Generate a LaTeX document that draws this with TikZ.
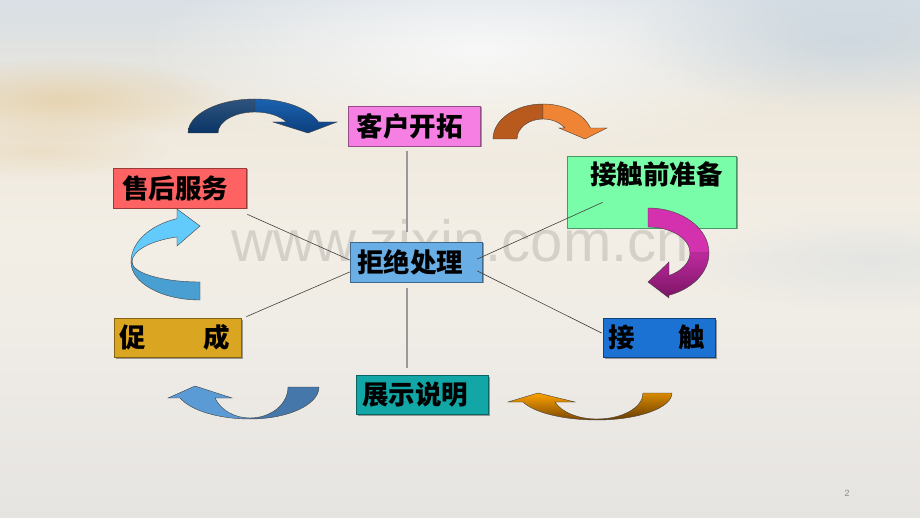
\documentclass[tikz,border=0pt]{standalone}
\usepackage{fontspec}
\newfontfamily\cjkfont{Noto Sans CJK SC}
\newfontfamily\latfont{Liberation Sans}
\usetikzlibrary{shadows,fadings,calc}
\definecolor{bgA}{HTML}{D8DFE5}
\definecolor{bgB}{HTML}{EEE8DC}
\definecolor{bgC}{HTML}{F3EEE5}
\definecolor{bgD}{HTML}{EEEBE6}
\definecolor{bgE}{HTML}{E6E4E1}
\definecolor{cloudwarm}{HTML}{E2C48E}
\definecolor{skyblue}{HTML}{C3D2DE}
\definecolor{cPink}{HTML}{F57FE2}
\definecolor{cRed}{HTML}{FF6262}
\definecolor{cMid}{HTML}{6AAEE6}
\definecolor{cGreen}{HTML}{7AFDA8}
\definecolor{cGold}{HTML}{DAA520}
\definecolor{cTeal}{HTML}{12A6A6}
\definecolor{cBlue}{HTML}{1C72D2}
\definecolor{navyBack}{HTML}{0A3566}
\definecolor{navyTop}{HTML}{1B62B0}
\definecolor{navyBot}{HTML}{0C3F7C}
\definecolor{orBack}{HTML}{B8591E}
\definecolor{orFront}{HTML}{EE8434}
\definecolor{magBack}{HTML}{D431AE}
\definecolor{magTop}{HTML}{BE2A9E}
\definecolor{magBot}{HTML}{7A1464}
\definecolor{skyFront}{HTML}{63CBFC}
\definecolor{skyBack}{HTML}{4A9FD2}
\definecolor{stFront}{HTML}{5B9BD5}
\definecolor{stBack}{HTML}{4677AA}
\definecolor{amTop}{HTML}{FFA200}
\definecolor{amBot}{HTML}{7A4800}
\tikzfading[name=softglow, inner color=transparent!0, outer color=transparent!100]
\begin{document}
\begin{tikzpicture}[x=1pt,y=-1pt,
  box/.style={fill=#1, draw=#1!60!black, line width=0.7pt, inner sep=0pt,
    minimum height=40pt, text=black,
    font=\cjkfont\bfseries\fontsize{26.5pt}{28pt}\selectfont,
    drop shadow={shadow xshift=1.5pt, shadow yshift=-1.5pt, opacity=0.35, fill=black}},
  arrowline/.style={draw=black!75, line width=0.4pt},
  vline/.style={draw=black!40, line width=1.2pt},
  dline/.style={draw=black!75, line width=0.6pt}]
\useasboundingbox (0,0) rectangle (920,518);
% background sky
\shade[top color=bgA, bottom color=bgB] (-1,-1) rectangle (921,111);
\shade[top color=bgB, bottom color=bgC] (-1,110) rectangle (921,231);
\shade[top color=bgC, bottom color=bgD] (-1,230) rectangle (921,361);
\shade[top color=bgD, bottom color=bgE] (-1,360) rectangle (921,519);
\fill[white, opacity=0.75, path fading=softglow] (480,50) ellipse [x radius=340, y radius=110];
\fill[cloudwarm, opacity=0.55, path fading=softglow] (60,100) ellipse [x radius=170, y radius=42];
\fill[cloudwarm, opacity=0.3, path fading=softglow] (40,150) ellipse [x radius=130, y radius=30];
\fill[skyblue, opacity=0.6, path fading=softglow] (850,40) ellipse [x radius=220, y radius=70];
\fill[skyblue, opacity=0.3, path fading=softglow] (870,260) ellipse [x radius=200, y radius=50];
% watermark
\node[anchor=base west, inner sep=0pt, font=\latfont\fontsize{58pt}{58pt}\selectfont, text=black, opacity=0.12] (wm) at (231,262) {www.zixin.com.cn};
% boxes
\node[box=cPink, minimum width=132pt] (kh) at (414,126) {\kern-9pt 客户开拓};
\node[box=cRed, minimum width=133pt] (sh) at (179.5,188) {\kern-9pt 售后服务};
\node[box=cMid, minimum width=132pt] (jj) at (416,262) {\kern-12pt 拒绝处理};
\node[box=cGreen, minimum width=169pt, minimum height=72pt, text height=28.5pt, text depth=43.5pt] (zb) at (651.5,192) {\kern10pt 接触前准备};
\node[box=cGold, minimum width=127pt, minimum height=39pt] (cc) at (177.5,337.5) {\kern-6pt 促\hspace{58pt}成};
\node[box=cTeal, minimum width=132pt, minimum height=39pt] (zs) at (422,394.5) {\kern-14pt 展示说明};
\node[box=cBlue, minimum width=112pt, minimum height=39pt] (jc) at (659,337.5) {\kern-5pt 接\hspace{44pt}触};
% curved arrow 1 (navy, top left)
\coordinate (c1) at (255,133);
\draw[arrowline, top color=navyBack!85!white, bottom color=navyBack] ($(c1)+(180:67 and 34)$) arc[start angle=180, end angle=270, x radius=67, y radius=34] -- ($(c1)+(270:37 and 21)$) arc[start angle=270, end angle=180, x radius=37, y radius=21] -- cycle;
\draw[arrowline, top color=navyTop, bottom color=navyBot] ($(c1)+(270:67 and 34)$) arc[start angle=270, end angle=341.1, x radius=67, y radius=34] -- (337,122) -- (308,133) -- (273,122) -- ($(c1)+(328.4:37 and 21)$) arc[start angle=328.4, end angle=270, x radius=37, y radius=21] -- cycle;
% curved arrow 2 (orange, top right)
\coordinate (c2) at (543,139);
\draw[arrowline, fill=orBack] ($(c2)+(180:50 and 35)$) arc[start angle=180, end angle=270, x radius=50, y radius=35] -- ($(c2)+(270:26 and 20)$) arc[start angle=270, end angle=180, x radius=26, y radius=20] -- cycle;
\draw[arrowline, fill=orFront] ($(c2)+(270:50 and 35)$) arc[start angle=270, end angle=341.7, x radius=50, y radius=35] -- (607,128) -- (585,139) -- (559,128) -- ($(c2)+(326.6:26 and 20)$) arc[start angle=326.6, end angle=270, x radius=26, y radius=20] -- cycle;
% curved arrow 3 (magenta, right)
\coordinate (c3) at (648,253);
\draw[arrowline, fill=magBack] ($(c3)+(-90:61 and 45)$) arc[start angle=-90, end angle=0, x radius=61, y radius=45] -- ($(c3)+(0:42 and 26)$) arc[start angle=0, end angle=-90, x radius=42, y radius=26] -- cycle;
\draw[arrowline, top color=magTop, bottom color=magBot] ($(c3)+(0:61 and 45)$) arc[start angle=0, end angle=70, x radius=61, y radius=45] -- (669,298) -- (648,282) -- (669,262) -- ($(c3)+(60:42 and 26)$) arc[start angle=60, end angle=0, x radius=42, y radius=26] -- cycle;
% curved arrow 4 (light blue, left)
\coordinate (c4) at (200,262);
\draw[arrowline, fill=skyBack] ($(c4)+(180:69 and 38)$) arc[start angle=180, end angle=90, x radius=69, y radius=38] -- ($(c4)+(90:68 and 20)$) arc[start angle=90, end angle=180, x radius=68, y radius=20] -- cycle;
\draw[arrowline, fill=skyFront] ($(c4)+(180:69 and 46)$) arc[start angle=180, end angle=250.5, x radius=69, y radius=46] -- (177,209) -- (200,226) -- (177,246) -- ($(c4)+(250.2:68 and 26.6)$) arc[start angle=250.2, end angle=180, x radius=68, y radius=26.6] -- cycle;
% curved arrow 5 (steel blue, bottom left)
\coordinate (c5) at (250,387);
\draw[arrowline, fill=stBack] ($(c5)+(0:69 and 32)$) arc[start angle=0, end angle=90, x radius=69, y radius=32] -- ($(c5)+(90:38 and 31)$) arc[start angle=90, end angle=0, x radius=38, y radius=31] -- cycle;
\draw[arrowline, fill=stFront] ($(c5)+(90:74.5 and 32)$) arc[start angle=90, end angle=159.9, x radius=74.5, y radius=32] -- (168,398) -- (195,386) -- (232,398) -- ($(c5)+(159.2:37.4 and 31)$) arc[start angle=159.2, end angle=90, x radius=37.4, y radius=31] -- cycle;
% curved arrow 6 (amber, bottom right)
\coordinate (c6) at (597,393);
\draw[arrowline, top color=amTop!85!black, bottom color=amBot!85!black] ($(c6)+(0:75 and 27)$) arc[start angle=0, end angle=90, x radius=75, y radius=27] -- ($(c6)+(90:46 and 26)$) arc[start angle=90, end angle=0, x radius=46, y radius=26] -- cycle;
\draw[arrowline, top color=amTop, bottom color=amBot] ($(c6)+(90:78.5 and 27)$) arc[start angle=90, end angle=160.5, x radius=78.5, y radius=27] -- (508,402) -- (538,393) -- (575,402) -- ($(c6)+(159.75:44.8 and 26)$) arc[start angle=159.75, end angle=90, x radius=44.8, y radius=26] -- cycle;
% connectors
\coordinate (v1a) at ($(kh.south)+(-7,5)$);
\coordinate (v1b) at ($(jj.north)+(-9,-10)$);
\coordinate (v2a) at ($(jj.south)+(-9,6)$);
\coordinate (v2b) at ($(zs.north)+(-15,-7)$);
\coordinate (d1a) at ($(sh.south east)+(1,6)$);
\coordinate (d1b) at ($(jj.west)+(0,-2)$);
\coordinate (d2a) at ($(cc.north east)+(5,-1)$);
\coordinate (d2b) at ($(jj.west)+(0,10)$);
\coordinate (d3a) at ($(jj.east)+(-5,-3)$);
\coordinate (d3b) at ($(zb.south west)+(36,-26)$);
\coordinate (d4a) at ($(jj.east)+(-5,9)$);
\coordinate (d4b) at ($(jc.west)+(-1,-4.5)$);
\draw[vline] (v1a) -- (v1b);
\draw[vline] (v2a) -- (v2b);
\draw[dline] (d1a) -- (d1b);
\draw[dline] (d2a) -- (d2b);
\draw[dline] (d3a) -- (d3b);
\draw[dline] (d4a) -- (d4b);
% page number
\node[font=\latfont\fontsize{9pt}{9pt}\selectfont, text=black!45] (pg) at (847,493) {2};
\end{tikzpicture}
\end{document}
